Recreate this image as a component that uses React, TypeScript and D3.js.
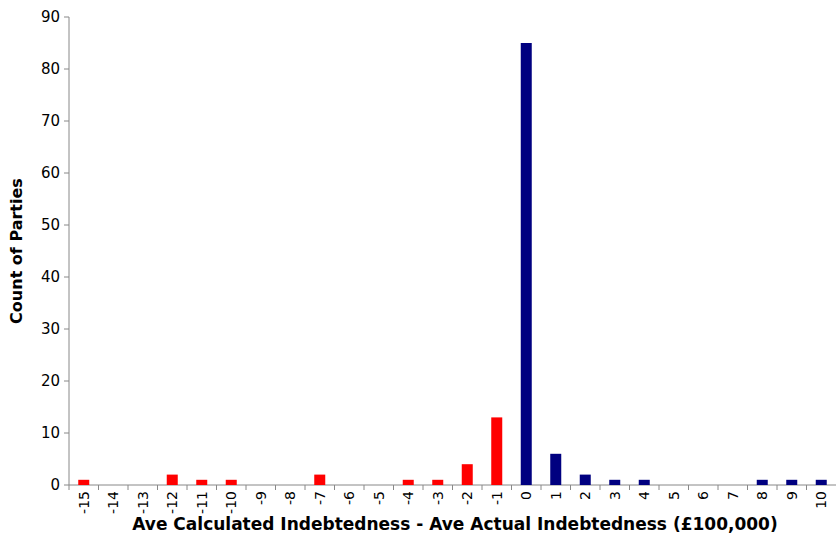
import React from "react";
import * as d3 from "d3";

const categories = d3.range(-15, 11).map(String);
const counts = [1,0,0,2,1,1,0,0,2,0,0,1,1,4,13,85,6,2,1,1,0,0,0,1,1,1];
const yTicks = [0,10,20,30,40,50,60,70,80,90];

export default function App() {
  const W = 836, H = 556;
  const L = 69, R = 836, T = 17, B = 485;
  const x = d3.scaleBand().domain(categories).range([L, R]);
  const y = d3.scaleLinear().domain([0, 90]).range([B, T]);
  const bw = 11;
  const font = "DejaVu Sans, Verdana, sans-serif";
  return (
    <svg width={W} height={H} style={{ position: "absolute", left: 0, top: 0 }}>
      <line x1={L} x2={L} y1={T} y2={B} stroke="#888" />
      <line x1={L} x2={R} y1={B} y2={B} stroke="#888" />
      {yTicks.map(t => (
        <g key={t}>
          <line x1={L - 5} x2={L} y1={y(t)} y2={y(t)} stroke="#888" />
          <text x={L - 9} y={y(t)} dy="0.35em" textAnchor="end" fontFamily={font} fontSize={15}>{t}</text>
        </g>
      ))}
      {categories.map((c, i) => (
        <g key={c}>
          <line x1={x(c)!} x2={x(c)!} y1={B} y2={B + 5} stroke="#888" />
          <text transform={`translate(${x(c)! + x.bandwidth() / 2},${B + 6}) rotate(-90)`} dy="0.35em" textAnchor="end" fontFamily={font} fontSize={14}>{c}</text>
          {counts[i] > 0 && (
            <rect x={x(c)! + x.bandwidth() / 2 - bw / 2} width={bw} y={y(counts[i])} height={B - y(counts[i])} fill={+c < 0 ? "#ff0000" : "#000080"} />
          )}
        </g>
      ))}
      <text x={455} y={530} textAnchor="middle" fontFamily={font} fontSize={17} fontWeight="bold">Ave Calculated Indebtedness - Ave Actual Indebtedness (£100,000)</text>
      <text transform={`translate(22,251) rotate(-90)`} textAnchor="middle" fontFamily={font} fontSize={16} fontWeight="bold">Count of Parties</text>
    </svg>
  );
}
